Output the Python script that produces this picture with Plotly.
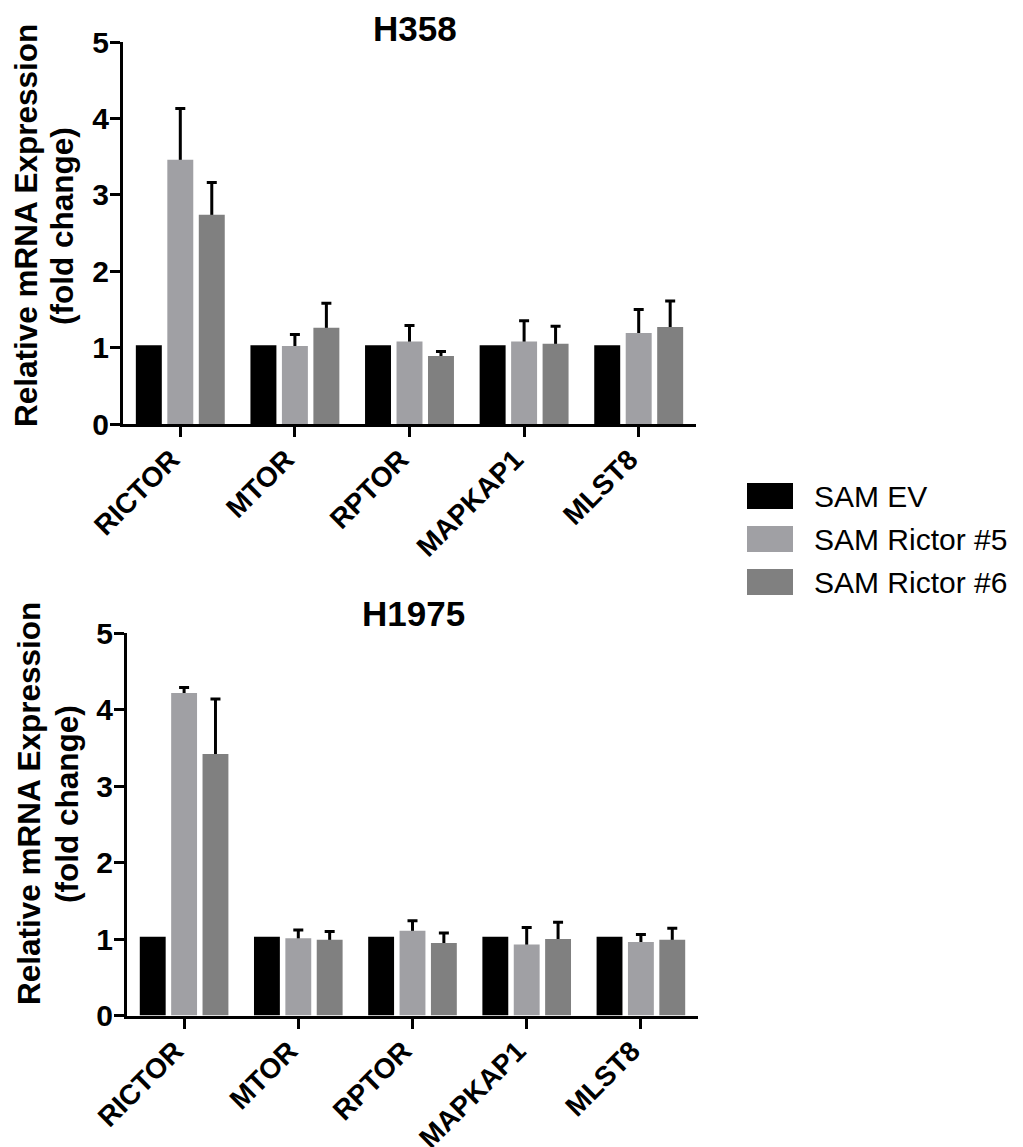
import plotly.graph_objects as go

# ---------------- data ----------------
genes = ["RICTOR", "MTOR", "RPTOR", "MAPKAP1", "MLST8"]
series_names = ["SAM EV", "SAM Rictor #5", "SAM Rictor #6"]
series_colors = ["#000000", "#A0A0A4", "#808080"]

h358_ev = [1.03, 1.03, 1.03, 1.03, 1.03]
h358_ev_err = [0, 0, 0, 0, 0]
h358_r5 = [3.46, 1.02, 1.08, 1.08, 1.19]
h358_r5_err = [0.67, 0.15, 0.21, 0.27, 0.31]
h358_r6 = [2.74, 1.26, 0.89, 1.05, 1.27]
h358_r6_err = [0.42, 0.32, 0.06, 0.23, 0.34]

h1975_ev = [1.03, 1.03, 1.03, 1.03, 1.03]
h1975_ev_err = [0, 0, 0, 0, 0]
h1975_r5 = [4.22, 1.01, 1.11, 0.93, 0.96]
h1975_r5_err = [0.07, 0.11, 0.13, 0.22, 0.10]
h1975_r6 = [3.42, 0.99, 0.95, 1.00, 0.99]
h1975_r6_err = [0.72, 0.11, 0.13, 0.22, 0.15]

y_ticks = [0, 1, 2, 3, 4, 5]
panel_titles = ["H358", "H1975"]
y_title_lines = ["Relative mRNA Expression", "(fold change)"]

panels = [
    ([h358_ev, h358_r5, h358_r6], [h358_ev_err, h358_r5_err, h358_r6_err], "x", "y"),
    ([h1975_ev, h1975_r5, h1975_r6], [h1975_ev_err, h1975_r5_err, h1975_r6_err], "x2", "y2"),
]

FONT = "Liberation Sans, Arial, sans-serif"
W, H = 1023, 1147


def px(x):
    return x / W


def py(y):
    return 1 - y / H


fig = go.Figure()

for vals_list, errs_list, xa, ya in panels:
    # error bars first (on transparent bars), so the visible bars cover their lower part
    for k, (vals, errs) in enumerate(zip(vals_list, errs_list)):
        has_err = any(e > 0 for e in errs)
        fig.add_trace(go.Bar(
            x=genes, y=vals, xaxis=xa, yaxis=ya,
            offsetgroup=str(k), showlegend=False, hoverinfo="skip",
            marker=dict(color="rgba(0,0,0,0)", line=dict(width=0)),
            error_y=dict(visible=has_err, type="data", symmetric=False, array=errs,
                         arrayminus=[v * 0.5 for v in vals],
                         color="black", thickness=3, width=5),
        ))
    for k, vals in enumerate(vals_list):
        fig.add_trace(go.Bar(
            x=genes, y=vals, xaxis=xa, yaxis=ya, name=series_names[k],
            offsetgroup=str(k), showlegend=False,
            marker=dict(color=series_colors[k], line=dict(width=0)),
        ))

axis_common = dict(
    showline=True, linecolor="black", linewidth=3,
    ticks="outside", ticklen=10, tickwidth=3, tickcolor="black",
    showgrid=False, zeroline=False, automargin=False,
)
xfont = dict(family=FONT, size=28, color="black", weight="bold")
yfont = dict(family=FONT, size=30, color="black", weight="bold")

fig.update_layout(
    width=W, height=H,
    margin=dict(l=0, r=0, t=0, b=0, autoexpand=False),
    paper_bgcolor="white", plot_bgcolor="white",
    barmode="group", bargap=0.176, bargroupgap=0.175,
    showlegend=False,
    xaxis=dict(domain=[px(123), px(696)], anchor="y", type="category",
               range=[-0.5, 4.5], tickangle=-45, ticklabelshift=-9,
               ticklabelstandoff=-5, tickfont=xfont, **axis_common),
    yaxis=dict(domain=[py(424), py(42)], anchor="x", range=[0, 5],
               tickvals=y_ticks, ticklabelstandoff=-5,
               tickfont=yfont, **axis_common),
    xaxis2=dict(domain=[px(127), px(698)], anchor="y2", type="category",
                range=[-0.5, 4.5], tickangle=-45, ticklabelshift=-9,
                ticklabelstandoff=-5, tickfont=xfont, **axis_common),
    yaxis2=dict(domain=[py(1015.5), py(633.3)], anchor="x2", range=[0, 5],
                tickvals=y_ticks, ticklabelstandoff=-5,
                tickfont=yfont, **axis_common),
)

annotations = []
# panel titles
for title, (cx, cy) in zip(panel_titles, [(415, 28), (413, 613)]):
    annotations.append(dict(
        text=title, x=px(cx), y=py(cy), xref="paper", yref="paper",
        xanchor="center", yanchor="middle", showarrow=False,
        font=dict(family=FONT, size=35, color="black", weight="bold"),
    ))
# y axis titles (two rotated lines each)
for (cx1, cx2, cy) in [(26, 62, 226), (29, 67, 804)]:
    for line, cx in zip(y_title_lines, [cx1, cx2]):
        annotations.append(dict(
            text=line, x=px(cx), y=py(cy), xref="paper", yref="paper",
            xanchor="center", yanchor="middle", showarrow=False, textangle=-90,
            font=dict(family=FONT, size=31.5, color="black", weight="bold"),
        ))

# custom legend
shapes = []
legend_rows = [496, 539, 582]
for name, color, cy in zip(series_names, series_colors, legend_rows):
    shapes.append(dict(
        type="rect", xref="paper", yref="paper",
        x0=px(747), x1=px(793), y0=py(cy + 13), y1=py(cy - 13),
        fillcolor=color, line=dict(width=0),
    ))
    annotations.append(dict(
        text=name, x=px(812), y=py(cy), xref="paper", yref="paper",
        xanchor="left", yanchor="middle", showarrow=False,
        font=dict(family=FONT, size=30, color="black"),
    ))

fig.update_layout(annotations=annotations, shapes=shapes)

fig.write_html(
    "out.html",
    config={"displayModeBar": False},
    post_script="document.body.style.margin='0';document.body.style.padding='0';",
)
